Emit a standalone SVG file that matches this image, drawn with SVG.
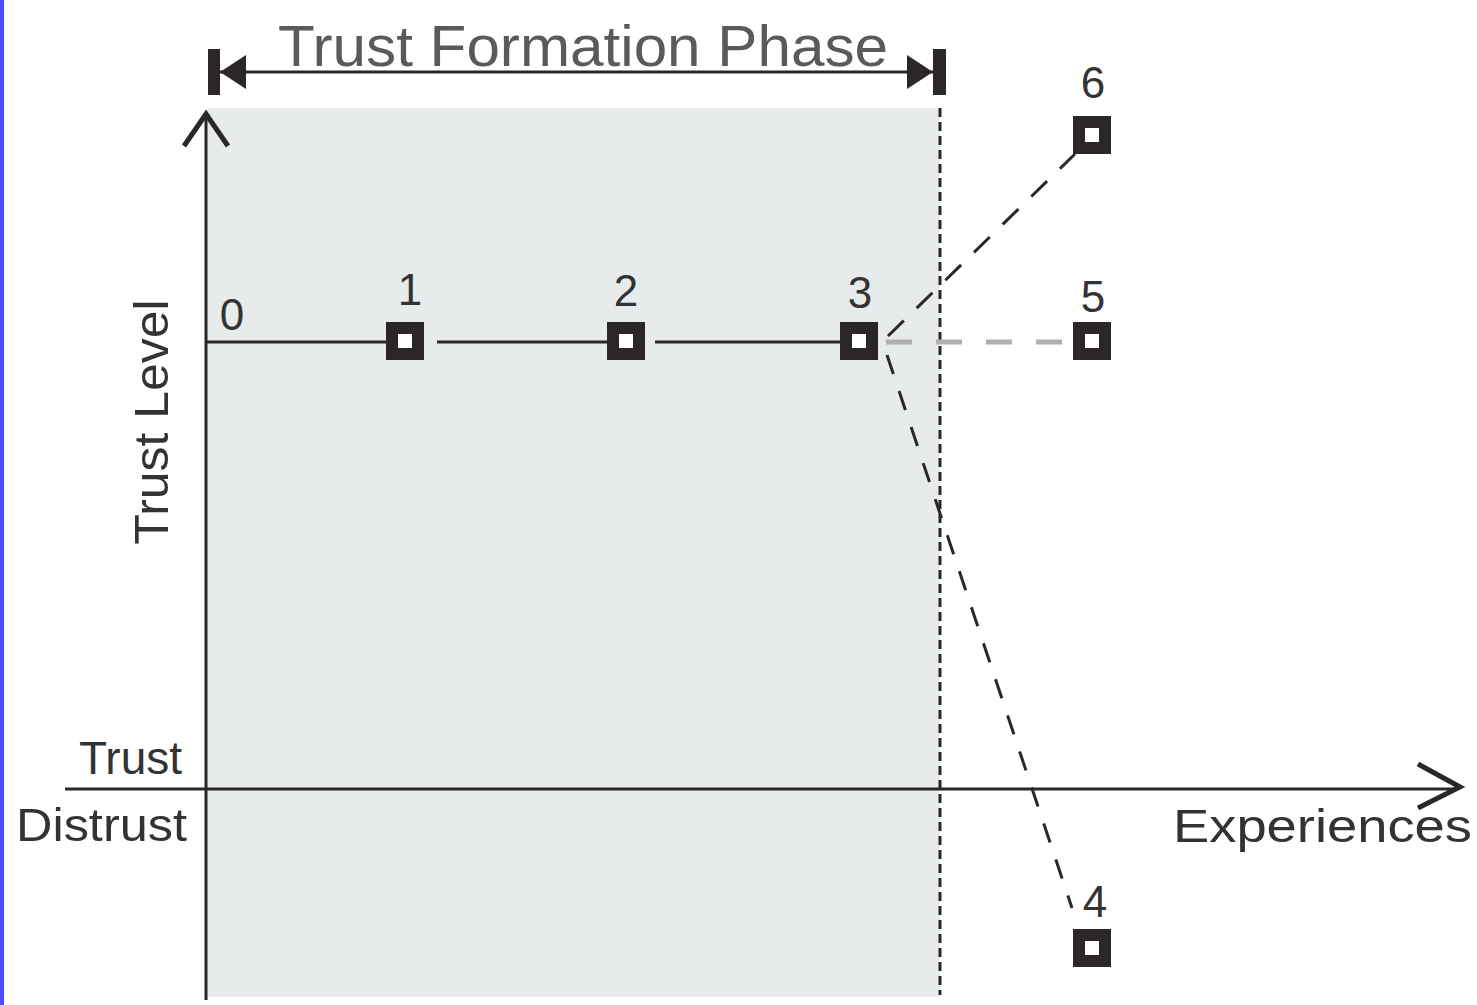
<svg xmlns="http://www.w3.org/2000/svg" width="1477" height="1005" viewBox="0 0 1477 1005">
<style>
.lbl{font-family:"Liberation Sans",Arial,sans-serif;fill:#333;}
.num{font-family:"Liberation Sans",Arial,sans-serif;fill:#333;font-size:44px;text-anchor:middle;}
.axis{stroke:#2b2728;stroke-width:3;fill:none;}
.sq{fill:#2b2728;}
.sqi{fill:#fff;}
</style>
<defs>
<g id="sqmark"><rect class="sq" x="-19" y="-19" width="38" height="38"/><rect class="sqi" x="-7" y="-7" width="14" height="14"/></g>
</defs>
<rect x="0" y="0" width="1477" height="1005" fill="#fff"/>
<rect x="0" y="0" width="4" height="1005" fill="#4a4aff"/>
<rect id="phase-area" x="207" y="108" width="733" height="889" fill="#e8ebec"/>
<g id="connectors">
<line x1="940" y1="108" x2="940" y2="995" stroke="#2b2728" stroke-width="3" stroke-dasharray="9 5"/>
<line class="axis" x1="206" y1="114" x2="206" y2="1000"/>
<polyline points="184,146 206,114 228,146" fill="none" stroke="#2b2728" stroke-width="5"/>
<line class="axis" x1="65" y1="789" x2="1458" y2="789"/>
<polyline points="1418,764 1460,787 1418,808" fill="none" stroke="#2b2728" stroke-width="5"/>
<line x1="220" y1="72" x2="933" y2="72" stroke="#2b2728" stroke-width="3"/>
<rect x="208" y="49" width="12" height="46" fill="#2b2728"/>
<polygon points="220,72 246,55 246,89" fill="#2b2728"/>
<rect x="933" y="49" width="13" height="46" fill="#2b2728"/>
<polygon points="933,72 907,55 907,89" fill="#2b2728"/>
<line x1="206" y1="342" x2="388" y2="342" stroke="#2b2728" stroke-width="3"/>
<line x1="437" y1="342" x2="608" y2="342" stroke="#2b2728" stroke-width="3"/>
<line x1="655" y1="342" x2="842" y2="342" stroke="#2b2728" stroke-width="3"/>
<line x1="886" y1="342" x2="1073" y2="342" stroke="#b0b0b0" stroke-width="5" stroke-dasharray="26 24"/>
<line x1="888" y1="336" x2="1075" y2="154" stroke="#2b2728" stroke-width="3" stroke-dasharray="22 18"/>
<line x1="887" y1="355" x2="1072" y2="908" stroke="#2b2728" stroke-width="3" stroke-dasharray="20 18"/>
</g>
<g id="node-1"><use href="#sqmark" x="405" y="341"/><text class="num" x="410" y="305">1</text></g>
<g id="node-2"><use href="#sqmark" x="626" y="341"/><text class="num" x="626" y="306">2</text></g>
<g id="node-3"><use href="#sqmark" x="859" y="341"/><text class="num" x="860" y="308">3</text></g>
<g id="node-5"><use href="#sqmark" x="1092" y="341"/><text class="num" x="1093" y="312">5</text></g>
<g id="node-6"><use href="#sqmark" x="1092" y="135"/><text class="num" x="1093" y="98">6</text></g>
<g id="node-4"><use href="#sqmark" x="1092" y="948"/><text class="num" x="1095" y="917">4</text></g>
<g id="node-0"><text class="num" x="232" y="330">0</text></g>
<g id="labels">
<text class="lbl" x="278" y="66" font-size="58" style="fill:#5a5a5a;font-weight:300" textLength="610" lengthAdjust="spacingAndGlyphs">Trust Formation Phase</text>
<text class="lbl" transform="translate(168,422) rotate(-90)" font-size="48" text-anchor="middle" textLength="245" lengthAdjust="spacingAndGlyphs">Trust Level</text>
<text class="lbl" x="182" y="774" font-size="46" text-anchor="end">Trust</text>
<text class="lbl" x="16" y="841" font-size="46" textLength="171" lengthAdjust="spacingAndGlyphs">Distrust</text>
<text class="lbl" x="1173" y="842" font-size="46" textLength="299" lengthAdjust="spacingAndGlyphs">Experiences</text>
</g>
</svg>
